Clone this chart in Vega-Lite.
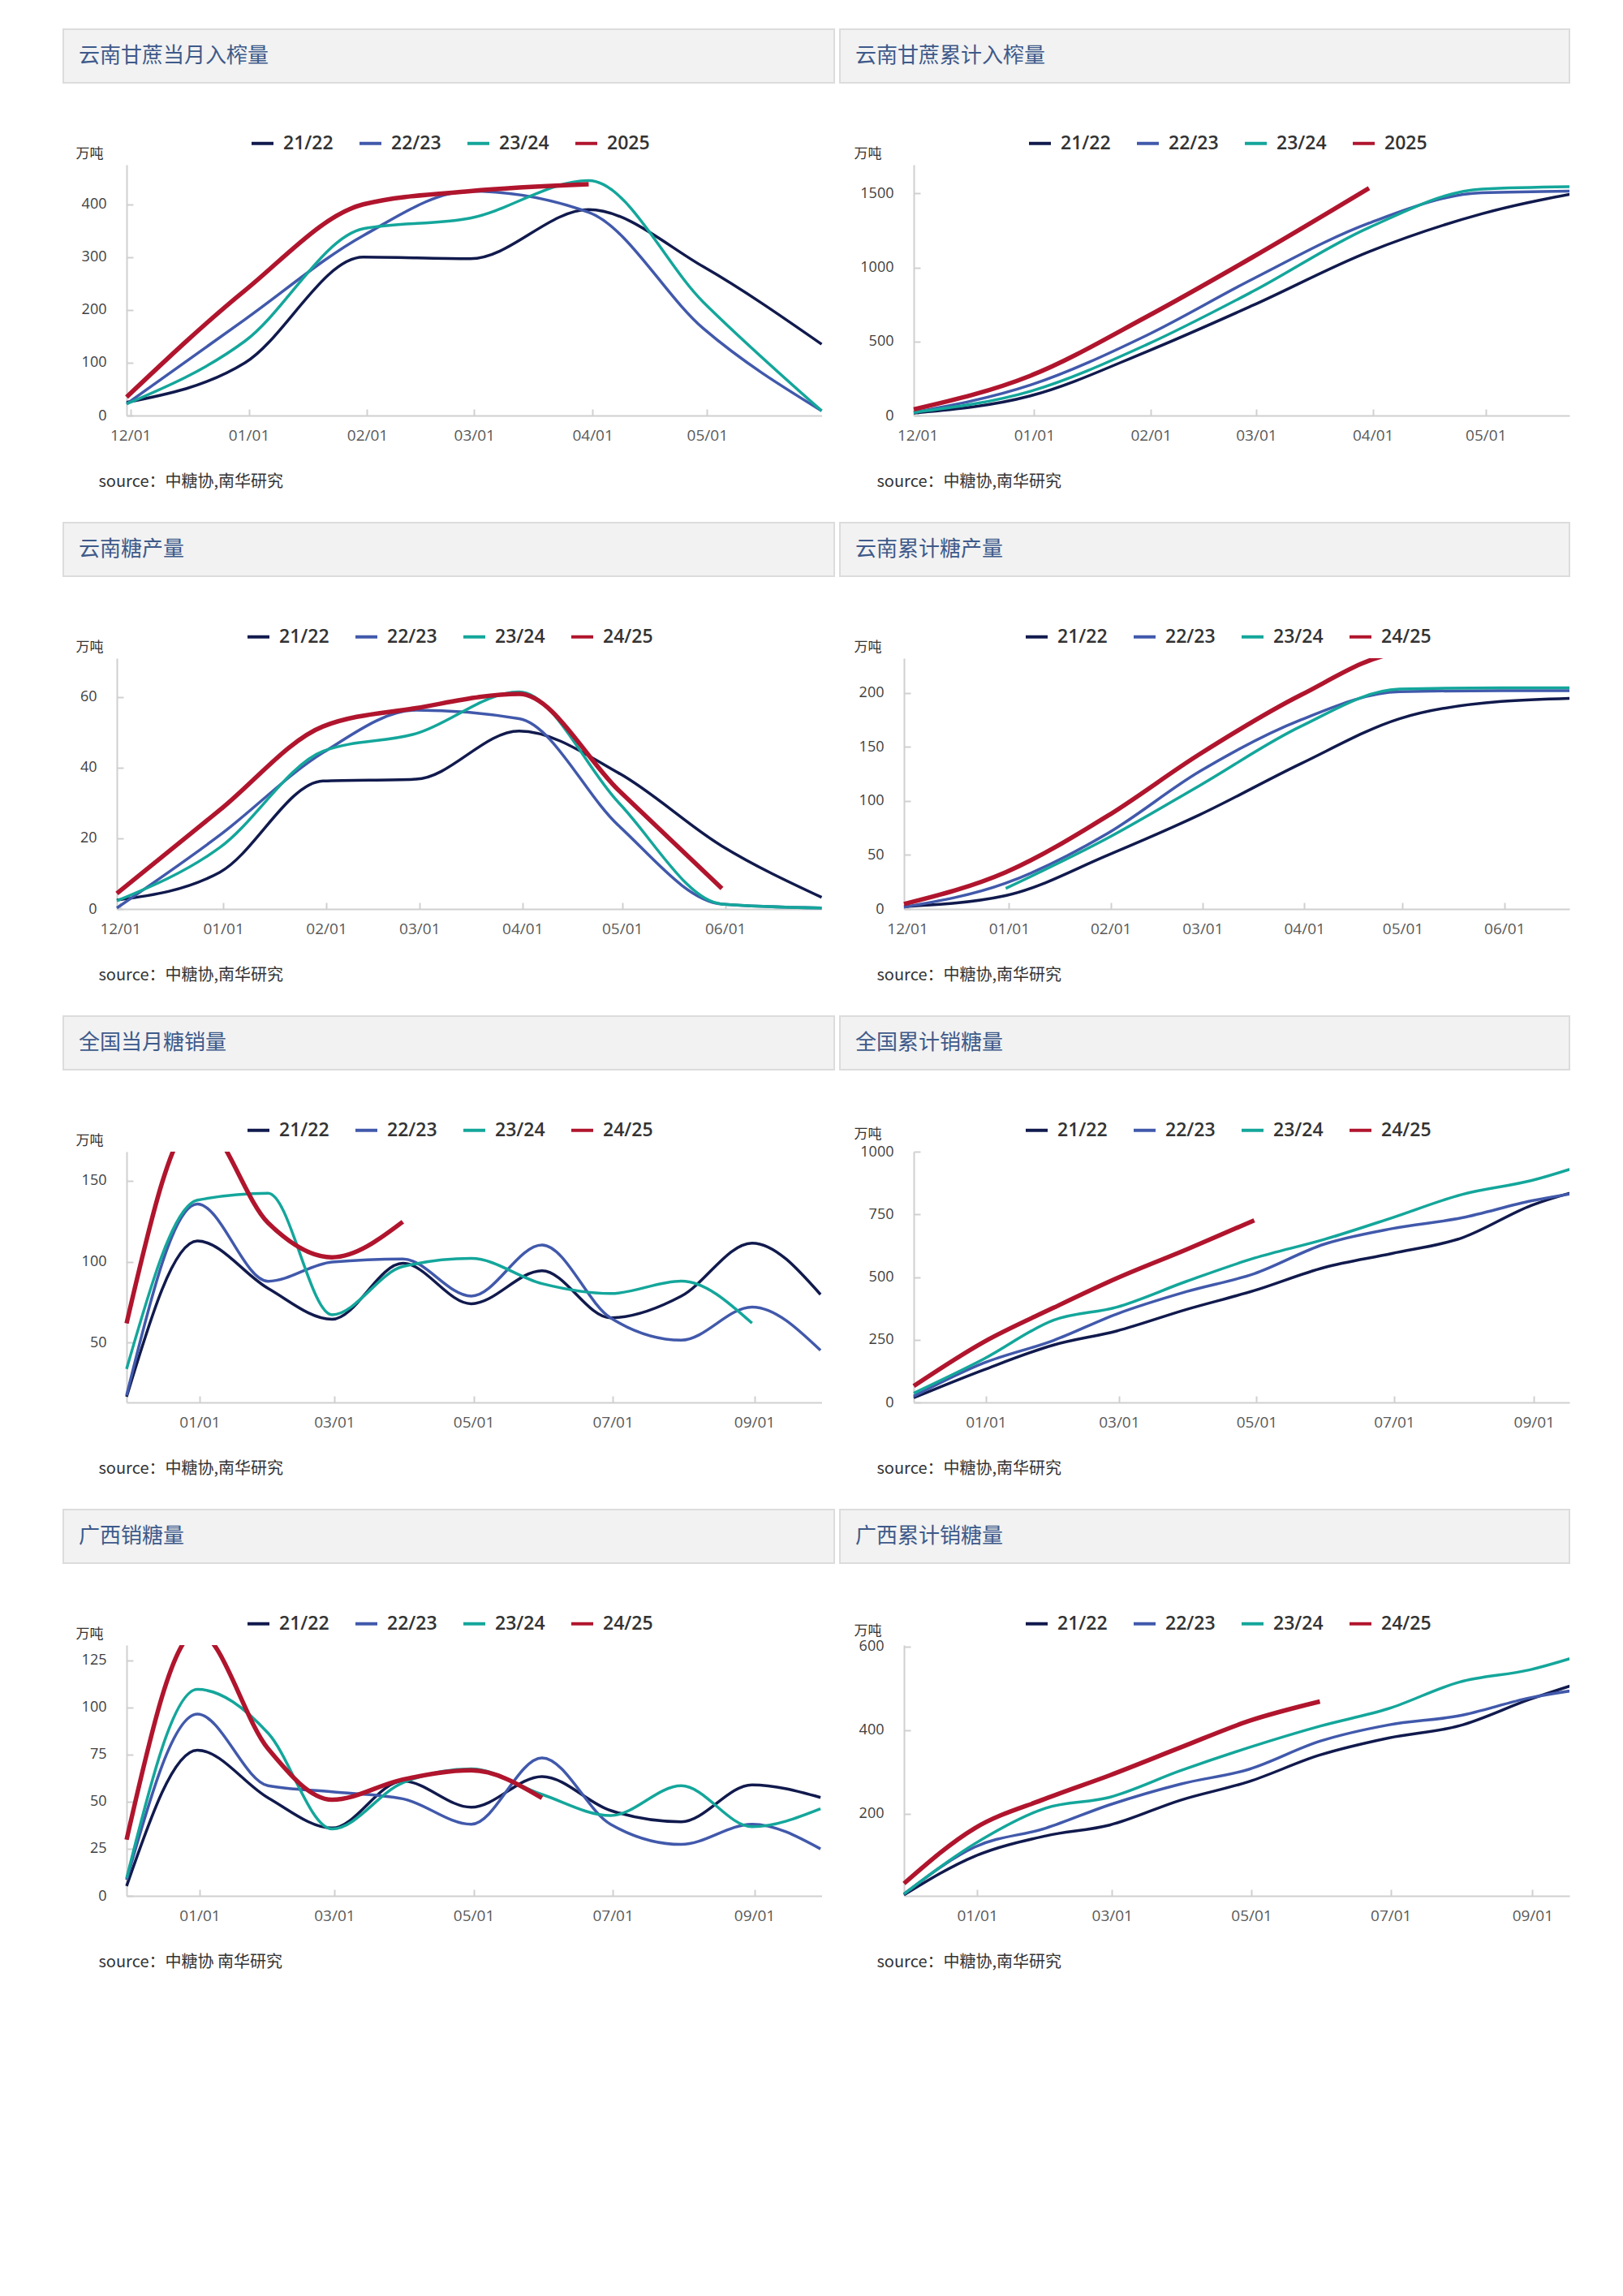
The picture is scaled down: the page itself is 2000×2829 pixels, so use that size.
{
"$schema": "https://vega.github.io/schema/vega-lite/v6.json",
"background": "white",
"padding": {"left": 77, "top": 35, "right": 0, "bottom": 60},
"autosize": {"type": "pad"},
"config": {
  "view": {"stroke": null},
  "font": "Noto Sans CJK SC",
  "axis": {"grid": false, "domainColor": "#d0d0d0", "domainWidth": 2, "tickColor": "#d0d0d0", "tickWidth": 2, "tickSize": -8, "labelFont": "Open Sans", "titleFont": "Noto Sans CJK SC", "titleFontWeight": "normal", "titleColor": "#333333", "labelOverlap": false, "labelFlush": false},
  "axisX": {"labelFontSize": 19, "labelColor": "#595959", "labelPadding": 23, "titleAlign": "left", "titleBaseline": "middle", "titleFontSize": 20},
  "axisY": {"labelFontSize": 18, "labelColor": "#404040", "labelPadding": 33, "titleAngle": 0, "titleAlign": "left", "titleBaseline": "middle", "titleFontSize": 17},
  "legend": {"symbolType": "stroke", "symbolStrokeWidth": 4, "symbolSize": 729, "labelFont": "Open Sans", "labelFontSize": 23, "labelFontWeight": 600, "labelColor": "#333333", "labelOffset": 10, "columnPadding": 24, "padding": 0},
  "title": {"orient": "top", "anchor": "start", "frame": "group", "offset": -46, "dx": 19, "baseline": "middle", "fontSize": 26, "font": "Noto Sans CJK SC", "fontWeight": "normal", "color": "#3e5a8a"}
},
"datasets": {
"p1": [
{"d":"2024-11-30","s":"21/22","v":25},{"d":"2024-12-31","s":"21/22","v":100},{"d":"2025-01-31","s":"21/22","v":300},{"d":"2025-02-28","s":"21/22","v":297},{"d":"2025-03-31","s":"21/22","v":390},{"d":"2025-04-30","s":"21/22","v":282},{"d":"2025-05-31","s":"21/22","v":135},
{"d":"2024-11-30","s":"22/23","v":22},{"d":"2024-12-31","s":"22/23","v":182},{"d":"2025-01-31","s":"22/23","v":341},{"d":"2025-02-28","s":"22/23","v":425},{"d":"2025-03-31","s":"22/23","v":385},{"d":"2025-04-30","s":"22/23","v":165},{"d":"2025-05-31","s":"22/23","v":9},
{"d":"2024-11-30","s":"23/24","v":22},{"d":"2024-12-31","s":"23/24","v":141},{"d":"2025-01-31","s":"23/24","v":354},{"d":"2025-02-28","s":"23/24","v":374},{"d":"2025-03-31","s":"23/24","v":445},{"d":"2025-04-30","s":"23/24","v":215},{"d":"2025-05-31","s":"23/24","v":9},
{"d":"2024-11-30","s":"2025","v":35},{"d":"2024-12-31","s":"2025","v":237},{"d":"2025-01-31","s":"2025","v":400},{"d":"2025-02-28","s":"2025","v":425},{"d":"2025-03-31","s":"2025","v":438}
],
"p2": [
{"d":"2024-11-30","s":"21/22","v":17},{"d":"2024-12-31","s":"21/22","v":133},{"d":"2025-01-31","s":"21/22","v":433},{"d":"2025-02-28","s":"21/22","v":743},{"d":"2025-03-31","s":"21/22","v":1107},{"d":"2025-04-30","s":"21/22","v":1363},{"d":"2025-05-31","s":"21/22","v":1530},
{"d":"2024-11-30","s":"22/23","v":21},{"d":"2024-12-31","s":"22/23","v":206},{"d":"2025-01-31","s":"22/23","v":543},{"d":"2025-02-28","s":"22/23","v":921},{"d":"2025-03-31","s":"22/23","v":1300},{"d":"2025-04-30","s":"22/23","v":1505},{"d":"2025-05-31","s":"22/23","v":1518},
{"d":"2024-11-30","s":"23/24","v":21},{"d":"2024-12-31","s":"23/24","v":164},{"d":"2025-01-31","s":"23/24","v":480},{"d":"2025-02-28","s":"23/24","v":837},{"d":"2025-03-31","s":"23/24","v":1270},{"d":"2025-04-30","s":"23/24","v":1530},{"d":"2025-05-31","s":"23/24","v":1548},
{"d":"2024-11-30","s":"2025","v":42},{"d":"2024-12-31","s":"2025","v":269},{"d":"2025-01-31","s":"2025","v":669},{"d":"2025-02-28","s":"2025","v":1069},{"d":"2025-03-31","s":"2025","v":1536}
],
"p3": [
{"d":"2024-11-30","s":"21/22","v":2.5},{"d":"2024-12-31","s":"21/22","v":10.4},{"d":"2025-01-31","s":"21/22","v":36.2},{"d":"2025-02-28","s":"21/22","v":36.7},{"d":"2025-03-31","s":"21/22","v":50.3},{"d":"2025-04-30","s":"21/22","v":38.4},{"d":"2025-05-31","s":"21/22","v":17.8},{"d":"2025-06-30","s":"21/22","v":3.3},
{"d":"2024-11-30","s":"22/23","v":0.3},{"d":"2024-12-31","s":"22/23","v":20.9},{"d":"2025-01-31","s":"22/23","v":44.2},{"d":"2025-02-28","s":"22/23","v":56.2},{"d":"2025-03-31","s":"22/23","v":53.8},{"d":"2025-04-30","s":"22/23","v":23.5},{"d":"2025-05-31","s":"22/23","v":1.4},{"d":"2025-06-30","s":"22/23","v":0.3},
{"d":"2024-11-30","s":"23/24","v":2.3},{"d":"2024-12-31","s":"23/24","v":17.4},{"d":"2025-01-31","s":"23/24","v":44.6},{"d":"2025-02-28","s":"23/24","v":49.6},{"d":"2025-03-31","s":"23/24","v":61.4},{"d":"2025-04-30","s":"23/24","v":30},{"d":"2025-05-31","s":"23/24","v":1.4},{"d":"2025-06-30","s":"23/24","v":0.3},
{"d":"2024-11-30","s":"24/25","v":4.4},{"d":"2024-12-31","s":"24/25","v":28},{"d":"2025-01-31","s":"24/25","v":51.6},{"d":"2025-02-28","s":"24/25","v":56.8},{"d":"2025-03-31","s":"24/25","v":60.8},{"d":"2025-04-30","s":"24/25","v":33.5},{"d":"2025-05-31","s":"24/25","v":5.8}
],
"p4": [
{"d":"2024-11-30","s":"21/22","v":2.3},{"d":"2024-12-31","s":"21/22","v":12.4},{"d":"2025-01-31","s":"21/22","v":49.7},{"d":"2025-02-28","s":"21/22","v":87},{"d":"2025-03-31","s":"21/22","v":134.5},{"d":"2025-04-30","s":"21/22","v":176},{"d":"2025-05-31","s":"21/22","v":192},{"d":"2025-06-30","s":"21/22","v":195.5},
{"d":"2024-11-30","s":"22/23","v":1.7},{"d":"2024-12-31","s":"22/23","v":23.9},{"d":"2025-01-31","s":"22/23","v":69.8},{"d":"2025-02-28","s":"22/23","v":127},{"d":"2025-03-31","s":"22/23","v":175},{"d":"2025-04-30","s":"22/23","v":201},{"d":"2025-05-31","s":"22/23","v":202},{"d":"2025-06-30","s":"22/23","v":202},
{"d":"2024-12-31","s":"23/24","v":19},{"d":"2025-01-31","s":"23/24","v":65.5},{"d":"2025-02-28","s":"23/24","v":114},{"d":"2025-03-31","s":"23/24","v":169},{"d":"2025-04-30","s":"23/24","v":203.4},{"d":"2025-05-31","s":"23/24","v":204.6},{"d":"2025-06-30","s":"23/24","v":204.6},
{"d":"2024-11-30","s":"24/25","v":4.6},{"d":"2024-12-31","s":"24/25","v":34},{"d":"2025-01-31","s":"24/25","v":86},{"d":"2025-02-28","s":"24/25","v":143},{"d":"2025-03-31","s":"24/25","v":198},{"d":"2025-04-30","s":"24/25","v":237},{"d":"2025-05-31","s":"24/25","v":242}
],
"p5": [
{"d":"2024-11-30","s":"21/22","v":16.5},{"d":"2024-12-31","s":"21/22","v":112.8},{"d":"2025-01-31","s":"21/22","v":83.5},{"d":"2025-02-28","s":"21/22","v":64.4},{"d":"2025-03-31","s":"21/22","v":99},{"d":"2025-04-30","s":"21/22","v":74},{"d":"2025-05-31","s":"21/22","v":94.4},{"d":"2025-06-30","s":"21/22","v":65.3},{"d":"2025-07-31","s":"21/22","v":78.7},{"d":"2025-08-31","s":"21/22","v":111.5},{"d":"2025-09-30","s":"21/22","v":79.7},
{"d":"2024-11-30","s":"22/23","v":17.4},{"d":"2024-12-31","s":"22/23","v":135.6},{"d":"2025-01-31","s":"22/23","v":87.9},{"d":"2025-02-28","s":"22/23","v":99.8},{"d":"2025-03-31","s":"22/23","v":101.7},{"d":"2025-04-30","s":"22/23","v":78.7},{"d":"2025-05-31","s":"22/23","v":110.3},{"d":"2025-06-30","s":"22/23","v":65.3},{"d":"2025-07-31","s":"22/23","v":51.5},{"d":"2025-08-31","s":"22/23","v":72},{"d":"2025-09-30","s":"22/23","v":45.2},
{"d":"2024-11-30","s":"23/24","v":33.7},{"d":"2024-12-31","s":"23/24","v":138},{"d":"2025-01-31","s":"23/24","v":142.3},{"d":"2025-02-28","s":"23/24","v":67.2},{"d":"2025-03-31","s":"23/24","v":97},{"d":"2025-04-30","s":"23/24","v":102},{"d":"2025-05-31","s":"23/24","v":86.4},{"d":"2025-06-30","s":"23/24","v":80.3},{"d":"2025-07-31","s":"23/24","v":88},{"d":"2025-08-31","s":"23/24","v":62},
{"d":"2024-11-30","s":"24/25","v":61.9},{"d":"2024-12-31","s":"24/25","v":188},{"d":"2025-01-31","s":"24/25","v":124},{"d":"2025-02-28","s":"24/25","v":102.7},{"d":"2025-03-31","s":"24/25","v":124.7}
],
"p6": [
{"d":"2024-11-30","s":"21/22","v":18.6},{"d":"2024-12-31","s":"21/22","v":130},{"d":"2025-01-31","s":"21/22","v":229},{"d":"2025-02-28","s":"21/22","v":285},{"d":"2025-03-31","s":"21/22","v":371},{"d":"2025-04-30","s":"21/22","v":446},{"d":"2025-05-31","s":"21/22","v":538},{"d":"2025-06-30","s":"21/22","v":594},{"d":"2025-07-31","s":"21/22","v":656},{"d":"2025-08-31","s":"21/22","v":786},{"d":"2025-09-30","s":"21/22","v":866},
{"d":"2024-11-30","s":"22/23","v":24.8},{"d":"2024-12-31","s":"22/23","v":157},{"d":"2025-01-31","s":"22/23","v":247.5},{"d":"2025-02-28","s":"22/23","v":352.7},{"d":"2025-03-31","s":"22/23","v":442},{"d":"2025-04-30","s":"22/23","v":513.6},{"d":"2025-05-31","s":"22/23","v":631},{"d":"2025-06-30","s":"22/23","v":693},{"d":"2025-07-31","s":"22/23","v":736},{"d":"2025-08-31","s":"22/23","v":804},{"d":"2025-09-30","s":"22/23","v":850},
{"d":"2024-11-30","s":"23/24","v":37},{"d":"2024-12-31","s":"23/24","v":173},{"d":"2025-01-31","s":"23/24","v":328},{"d":"2025-02-28","s":"23/24","v":380},{"d":"2025-03-31","s":"23/24","v":483},{"d":"2025-04-30","s":"23/24","v":575.5},{"d":"2025-05-31","s":"23/24","v":650},{"d":"2025-06-30","s":"23/24","v":736},{"d":"2025-07-31","s":"23/24","v":829},{"d":"2025-08-31","s":"23/24","v":885},{"d":"2025-09-30","s":"23/24","v":968},
{"d":"2024-11-30","s":"24/25","v":65.6},{"d":"2024-12-31","s":"24/25","v":241},{"d":"2025-01-31","s":"24/25","v":377.5},{"d":"2025-02-28","s":"24/25","v":495},{"d":"2025-03-31","s":"24/25","v":610},{"d":"2025-04-30","s":"24/25","v":726}
],
"p7": [
{"d":"2024-11-30","s":"21/22","v":5.2},{"d":"2024-12-31","s":"21/22","v":77.3},{"d":"2025-01-31","s":"21/22","v":52},{"d":"2025-02-28","s":"21/22","v":36},{"d":"2025-03-31","s":"21/22","v":60.9},{"d":"2025-04-30","s":"21/22","v":47},{"d":"2025-05-31","s":"21/22","v":63.3},{"d":"2025-06-30","s":"21/22","v":45.3},{"d":"2025-07-31","s":"21/22","v":39.3},{"d":"2025-08-31","s":"21/22","v":58.9},{"d":"2025-09-30","s":"21/22","v":52.2},
{"d":"2024-11-30","s":"22/23","v":8.5},{"d":"2024-12-31","s":"22/23","v":96.4},{"d":"2025-01-31","s":"22/23","v":58.4},{"d":"2025-02-28","s":"22/23","v":55.2},{"d":"2025-03-31","s":"22/23","v":51.5},{"d":"2025-04-30","s":"22/23","v":38},{"d":"2025-05-31","s":"22/23","v":73.2},{"d":"2025-06-30","s":"22/23","v":38},{"d":"2025-07-31","s":"22/23","v":27.3},{"d":"2025-08-31","s":"22/23","v":38},{"d":"2025-09-30","s":"22/23","v":24.9},
{"d":"2024-11-30","s":"23/24","v":9.3},{"d":"2024-12-31","s":"23/24","v":109.5},{"d":"2025-01-31","s":"23/24","v":86.3},{"d":"2025-02-28","s":"23/24","v":35.5},{"d":"2025-03-31","s":"23/24","v":60},{"d":"2025-04-30","s":"23/24","v":67.4},{"d":"2025-05-31","s":"23/24","v":53.8},{"d":"2025-06-30","s":"23/24","v":42.6},{"d":"2025-07-31","s":"23/24","v":58.4},{"d":"2025-08-31","s":"23/24","v":36.7},{"d":"2025-09-30","s":"23/24","v":46.2},
{"d":"2024-11-30","s":"24/25","v":29.8},{"d":"2024-12-31","s":"24/25","v":140},{"d":"2025-01-31","s":"24/25","v":78},{"d":"2025-02-28","s":"24/25","v":51},{"d":"2025-03-31","s":"24/25","v":61.7},{"d":"2025-04-30","s":"24/25","v":66.6},{"d":"2025-05-31","s":"24/25","v":51.9}
],
"p8": [
{"d":"2024-11-30","s":"21/22","v":5.2},{"d":"2024-12-31","s":"21/22","v":98},{"d":"2025-01-31","s":"21/22","v":146.5},{"d":"2025-02-28","s":"21/22","v":172.5},{"d":"2025-03-31","s":"21/22","v":232},{"d":"2025-04-30","s":"21/22","v":276.6},{"d":"2025-05-31","s":"21/22","v":340},{"d":"2025-06-30","s":"21/22","v":380.7},{"d":"2025-07-31","s":"21/22","v":410},{"d":"2025-08-31","s":"21/22","v":473.6},{"d":"2025-09-30","s":"21/22","v":527},
{"d":"2024-11-30","s":"22/23","v":7.4},{"d":"2024-12-31","s":"22/23","v":120},{"d":"2025-01-31","s":"22/23","v":165},{"d":"2025-02-28","s":"22/23","v":221},{"d":"2025-03-31","s":"22/23","v":270.6},{"d":"2025-04-30","s":"22/23","v":306},{"d":"2025-05-31","s":"22/23","v":373},{"d":"2025-06-30","s":"22/23","v":412},{"d":"2025-07-31","s":"22/23","v":434},{"d":"2025-08-31","s":"22/23","v":477},{"d":"2025-09-30","s":"22/23","v":503},
{"d":"2024-11-30","s":"23/24","v":7.4},{"d":"2024-12-31","s":"23/24","v":128},{"d":"2025-01-31","s":"23/24","v":213},{"d":"2025-02-28","s":"23/24","v":239},{"d":"2025-03-31","s":"23/24","v":302.6},{"d":"2025-04-30","s":"23/24","v":358},{"d":"2025-05-31","s":"23/24","v":409},{"d":"2025-06-30","s":"23/24","v":451},{"d":"2025-07-31","s":"23/24","v":514.5},{"d":"2025-08-31","s":"23/24","v":544},{"d":"2025-09-30","s":"23/24","v":592},
{"d":"2024-11-30","s":"24/25","v":32.7},{"d":"2024-12-31","s":"24/25","v":165},{"d":"2025-01-31","s":"24/25","v":235.7},{"d":"2025-02-28","s":"24/25","v":291.4},{"d":"2025-03-31","s":"24/25","v":358},{"d":"2025-04-30","s":"24/25","v":421.6},{"d":"2025-05-31","s":"24/25","v":468}
]
},
"columns": 2,
"spacing": {"row": 101, "column": 7},
"bounds": "flush",
"resolve": {"scale": {"color": "independent"}, "legend": {"color": "independent"}},
"concat": [
  {"width": 950, "height": 66, "data": {"values": [{}]}, "mark": {"type": "rect", "opacity": 0}, "view": {"fill": "#f2f2f2", "stroke": "#dcdcdc", "strokeWidth": 2}, "title": {"text": "云南甘蔗当月入榨量"}},
  {"width": 899, "height": 66, "data": {"values": [{}]}, "mark": {"type": "rect", "opacity": 0}, "view": {"fill": "#f2f2f2", "stroke": "#dcdcdc", "strokeWidth": 2}, "title": {"text": "云南甘蔗累计入榨量"}},
  {"width": 950, "height": 340, "data": {"name": "p1"},
   "mark": {"type": "line", "interpolate": "monotone", "clip": true},
   "encoding": {
    "x": {"field": "d", "type": "temporal", "scale": {"type": "utc", "nice": false, "domain": [{"year":2024,"month":11,"date":30,"utc":true},{"year":2025,"month":5,"date":31,"utc":true}], "range": [78, 934.5]},
      "axis": {"offset": -31, "values": [{"year":2024,"month":12,"date":1,"utc":true},{"year":2025,"month":1,"date":1,"utc":true},{"year":2025,"month":2,"date":1,"utc":true},{"year":2025,"month":3,"date":1,"utc":true},{"year":2025,"month":4,"date":1,"utc":true},{"year":2025,"month":5,"date":1,"utc":true}], "format": "%m/%d", "title": "source：中糖协,南华研究", "titleX": 43, "titleY": 81}},
    "y": {"field": "v", "type": "quantitative", "scale": {"domain": [0, 475], "nice": false, "zero": false, "range": [309, 0]},
      "axis": {"values": [0, 100, 200, 300, 400], "format": "d", "offset": -78, "title": "万吨", "titleX": -63, "titleY": -14}},
    "color": {"field": "s", "type": "nominal", "scale": {"domain": ["21/22","22/23","23/24","2025"], "range": ["#111a4d","#4159ab","#14a69b","#b0152d"]}, "legend": {"orient": "none", "legendX": 230, "legendY": -42, "direction": "horizontal", "title": null, "symbolStrokeWidth": 4}},
    "strokeWidth": {"condition": {"test": "datum.s === '2025' || datum.s === '24/25'", "value": 5.5}, "value": 3.5}
   }},
  {"width": 899, "height": 340, "data": {"name": "p2"},
   "mark": {"type": "line", "interpolate": "monotone", "clip": true},
   "encoding": {
    "x": {"field": "d", "type": "temporal", "scale": {"type": "utc", "nice": false, "domain": [{"year":2024,"month":11,"date":30,"utc":true},{"year":2025,"month":5,"date":23,"hours":6,"utc":true}], "range": [91, 899]},
      "axis": {"offset": -31, "values": [{"year":2024,"month":12,"date":1,"utc":true},{"year":2025,"month":1,"date":1,"utc":true},{"year":2025,"month":2,"date":1,"utc":true},{"year":2025,"month":3,"date":1,"utc":true},{"year":2025,"month":4,"date":1,"utc":true},{"year":2025,"month":5,"date":1,"utc":true}], "format": "%m/%d", "title": "source：中糖协,南华研究", "titleX": 45, "titleY": 81}},
    "y": {"field": "v", "type": "quantitative", "scale": {"domain": [0, 1694], "nice": false, "zero": false, "range": [309, 0]},
      "axis": {"values": [0, 500, 1000, 1500], "format": "d", "offset": -91, "title": "万吨", "titleX": -74, "titleY": -14}},
    "color": {"field": "s", "type": "nominal", "scale": {"domain": ["21/22","22/23","23/24","2025"], "range": ["#111a4d","#4159ab","#14a69b","#b0152d"]}, "legend": {"orient": "none", "legendX": 231, "legendY": -42, "direction": "horizontal", "title": null, "symbolStrokeWidth": 4}},
    "strokeWidth": {"condition": {"test": "datum.s === '2025' || datum.s === '24/25'", "value": 5.5}, "value": 3.5}
   }},
  {"width": 950, "height": 66, "data": {"values": [{}]}, "mark": {"type": "rect", "opacity": 0}, "view": {"fill": "#f2f2f2", "stroke": "#dcdcdc", "strokeWidth": 2}, "title": {"text": "云南糖产量"}},
  {"width": 899, "height": 66, "data": {"values": [{}]}, "mark": {"type": "rect", "opacity": 0}, "view": {"fill": "#f2f2f2", "stroke": "#dcdcdc", "strokeWidth": 2}, "title": {"text": "云南累计糖产量"}},
  {"width": 950, "height": 340, "data": {"name": "p3"},
   "mark": {"type": "line", "interpolate": "monotone", "clip": true},
   "encoding": {
    "x": {"field": "d", "type": "temporal", "scale": {"type": "utc", "nice": false, "domain": [{"year":2024,"month":11,"date":30,"utc":true},{"year":2025,"month":6,"date":30,"utc":true}], "range": [66, 934.5]},
      "axis": {"offset": -31, "values": [{"year":2024,"month":12,"date":1,"utc":true},{"year":2025,"month":1,"date":1,"utc":true},{"year":2025,"month":2,"date":1,"utc":true},{"year":2025,"month":3,"date":1,"utc":true},{"year":2025,"month":4,"date":1,"utc":true},{"year":2025,"month":5,"date":1,"utc":true},{"year":2025,"month":6,"date":1,"utc":true}], "format": "%m/%d", "title": "source：中糖协,南华研究", "titleX": 43, "titleY": 81}},
    "y": {"field": "v", "type": "quantitative", "scale": {"domain": [0, 70.9], "nice": false, "zero": false, "range": [309, 0]},
      "axis": {"values": [0, 20, 40, 60], "format": "d", "offset": -66, "title": "万吨", "titleX": -51, "titleY": -14}},
    "color": {"field": "s", "type": "nominal", "scale": {"domain": ["21/22","22/23","23/24","24/25"], "range": ["#111a4d","#4159ab","#14a69b","#b0152d"]}, "legend": {"orient": "none", "legendX": 225, "legendY": -42, "direction": "horizontal", "title": null, "symbolStrokeWidth": 4}},
    "strokeWidth": {"condition": {"test": "datum.s === '2025' || datum.s === '24/25'", "value": 5.5}, "value": 3.5}
   }},
  {"width": 899, "height": 340, "data": {"name": "p4"},
   "mark": {"type": "line", "interpolate": "monotone", "clip": true},
   "encoding": {
    "x": {"field": "d", "type": "temporal", "scale": {"type": "utc", "nice": false, "domain": [{"year":2024,"month":11,"date":30,"utc":true},{"year":2025,"month":6,"date":20,"hours":20,"utc":true}], "range": [79, 899]},
      "axis": {"offset": -31, "values": [{"year":2024,"month":12,"date":1,"utc":true},{"year":2025,"month":1,"date":1,"utc":true},{"year":2025,"month":2,"date":1,"utc":true},{"year":2025,"month":3,"date":1,"utc":true},{"year":2025,"month":4,"date":1,"utc":true},{"year":2025,"month":5,"date":1,"utc":true},{"year":2025,"month":6,"date":1,"utc":true}], "format": "%m/%d", "title": "source：中糖协,南华研究", "titleX": 45, "titleY": 81}},
    "y": {"field": "v", "type": "quantitative", "scale": {"domain": [0, 232], "nice": false, "zero": false, "range": [309, 0]},
      "axis": {"values": [0, 50, 100, 150, 200], "format": "d", "offset": -79, "title": "万吨", "titleX": -62, "titleY": -14}},
    "color": {"field": "s", "type": "nominal", "scale": {"domain": ["21/22","22/23","23/24","24/25"], "range": ["#111a4d","#4159ab","#14a69b","#b0152d"]}, "legend": {"orient": "none", "legendX": 227, "legendY": -42, "direction": "horizontal", "title": null, "symbolStrokeWidth": 4}},
    "strokeWidth": {"condition": {"test": "datum.s === '2025' || datum.s === '24/25'", "value": 5.5}, "value": 3.5}
   }},
  {"width": 950, "height": 66, "data": {"values": [{}]}, "mark": {"type": "rect", "opacity": 0}, "view": {"fill": "#f2f2f2", "stroke": "#dcdcdc", "strokeWidth": 2}, "title": {"text": "全国当月糖销量"}},
  {"width": 899, "height": 66, "data": {"values": [{}]}, "mark": {"type": "rect", "opacity": 0}, "view": {"fill": "#f2f2f2", "stroke": "#dcdcdc", "strokeWidth": 2}, "title": {"text": "全国累计销糖量"}},
  {"width": 950, "height": 340, "data": {"name": "p5"},
   "mark": {"type": "line", "interpolate": "monotone", "clip": true},
   "encoding": {
    "x": {"field": "d", "type": "temporal", "scale": {"type": "utc", "nice": false, "domain": [{"year":2024,"month":11,"date":30,"utc":true},{"year":2025,"month":9,"date":30,"hours":12,"utc":true}], "range": [78, 934.5]},
      "axis": {"offset": -31, "values": [{"year":2025,"month":1,"date":1,"utc":true},{"year":2025,"month":3,"date":1,"utc":true},{"year":2025,"month":5,"date":1,"utc":true},{"year":2025,"month":7,"date":1,"utc":true},{"year":2025,"month":9,"date":1,"utc":true}], "format": "%m/%d", "title": "source：中糖协,南华研究", "titleX": 43, "titleY": 81}},
    "y": {"field": "v", "type": "quantitative", "scale": {"domain": [13, 168], "nice": false, "zero": false, "range": [309, 0]},
      "axis": {"values": [50, 100, 150], "format": "d", "offset": -78, "title": "万吨", "titleX": -63, "titleY": -14}},
    "color": {"field": "s", "type": "nominal", "scale": {"domain": ["21/22","22/23","23/24","24/25"], "range": ["#111a4d","#4159ab","#14a69b","#b0152d"]}, "legend": {"orient": "none", "legendX": 225, "legendY": -42, "direction": "horizontal", "title": null, "symbolStrokeWidth": 4}},
    "strokeWidth": {"condition": {"test": "datum.s === '2025' || datum.s === '24/25'", "value": 5.5}, "value": 3.5}
   }},
  {"width": 899, "height": 340, "data": {"name": "p6"},
   "mark": {"type": "line", "interpolate": "monotone", "clip": true},
   "encoding": {
    "x": {"field": "d", "type": "temporal", "scale": {"type": "utc", "nice": false, "domain": [{"year":2024,"month":11,"date":30,"utc":true},{"year":2025,"month":9,"date":16,"hours":18,"utc":true}], "range": [91, 899]},
      "axis": {"offset": -31, "values": [{"year":2025,"month":1,"date":1,"utc":true},{"year":2025,"month":3,"date":1,"utc":true},{"year":2025,"month":5,"date":1,"utc":true},{"year":2025,"month":7,"date":1,"utc":true},{"year":2025,"month":9,"date":1,"utc":true}], "format": "%m/%d", "title": "source：中糖协,南华研究", "titleX": 45, "titleY": 81}},
    "y": {"field": "v", "type": "quantitative", "scale": {"domain": [0, 1000], "nice": false, "zero": false, "range": [309, 0]},
      "axis": {"values": [0, 250, 500, 750, 1000], "format": "d", "offset": -91, "title": "万吨", "titleX": -74, "titleY": -22}},
    "color": {"field": "s", "type": "nominal", "scale": {"domain": ["21/22","22/23","23/24","24/25"], "range": ["#111a4d","#4159ab","#14a69b","#b0152d"]}, "legend": {"orient": "none", "legendX": 227, "legendY": -42, "direction": "horizontal", "title": null, "symbolStrokeWidth": 4}},
    "strokeWidth": {"condition": {"test": "datum.s === '2025' || datum.s === '24/25'", "value": 5.5}, "value": 3.5}
   }},
  {"width": 950, "height": 66, "data": {"values": [{}]}, "mark": {"type": "rect", "opacity": 0}, "view": {"fill": "#f2f2f2", "stroke": "#dcdcdc", "strokeWidth": 2}, "title": {"text": "广西销糖量"}},
  {"width": 899, "height": 66, "data": {"values": [{}]}, "mark": {"type": "rect", "opacity": 0}, "view": {"fill": "#f2f2f2", "stroke": "#dcdcdc", "strokeWidth": 2}, "title": {"text": "广西累计销糖量"}},
  {"width": 950, "height": 340, "data": {"name": "p7"},
   "mark": {"type": "line", "interpolate": "monotone", "clip": true},
   "encoding": {
    "x": {"field": "d", "type": "temporal", "scale": {"type": "utc", "nice": false, "domain": [{"year":2024,"month":11,"date":30,"utc":true},{"year":2025,"month":9,"date":30,"hours":12,"utc":true}], "range": [78, 934.5]},
      "axis": {"offset": -31, "values": [{"year":2025,"month":1,"date":1,"utc":true},{"year":2025,"month":3,"date":1,"utc":true},{"year":2025,"month":5,"date":1,"utc":true},{"year":2025,"month":7,"date":1,"utc":true},{"year":2025,"month":9,"date":1,"utc":true}], "format": "%m/%d", "title": "source：中糖协 南华研究", "titleX": 43, "titleY": 81}},
    "y": {"field": "v", "type": "quantitative", "scale": {"domain": [0, 133], "nice": false, "zero": false, "range": [309, 0]},
      "axis": {"values": [0, 25, 50, 75, 100, 125], "format": "d", "offset": -78, "title": "万吨", "titleX": -63, "titleY": -14}},
    "color": {"field": "s", "type": "nominal", "scale": {"domain": ["21/22","22/23","23/24","24/25"], "range": ["#111a4d","#4159ab","#14a69b","#b0152d"]}, "legend": {"orient": "none", "legendX": 225, "legendY": -42, "direction": "horizontal", "title": null, "symbolStrokeWidth": 4}},
    "strokeWidth": {"condition": {"test": "datum.s === '2025' || datum.s === '24/25'", "value": 5.5}, "value": 3.5}
   }},
  {"width": 899, "height": 340, "data": {"name": "p8"},
   "mark": {"type": "line", "interpolate": "monotone", "clip": true},
   "encoding": {
    "x": {"field": "d", "type": "temporal", "scale": {"type": "utc", "nice": false, "domain": [{"year":2024,"month":11,"date":30,"utc":true},{"year":2025,"month":9,"date":17,"hours":5,"utc":true}], "range": [79, 899]},
      "axis": {"offset": -31, "values": [{"year":2025,"month":1,"date":1,"utc":true},{"year":2025,"month":3,"date":1,"utc":true},{"year":2025,"month":5,"date":1,"utc":true},{"year":2025,"month":7,"date":1,"utc":true},{"year":2025,"month":9,"date":1,"utc":true}], "format": "%m/%d", "title": "source：中糖协,南华研究", "titleX": 45, "titleY": 81}},
    "y": {"field": "v", "type": "quantitative", "scale": {"domain": [3, 603], "nice": false, "zero": false, "range": [309, 0]},
      "axis": {"values": [200, 400, 600], "format": "d", "offset": -79, "title": "万吨", "titleX": -62, "titleY": -18}},
    "color": {"field": "s", "type": "nominal", "scale": {"domain": ["21/22","22/23","23/24","24/25"], "range": ["#111a4d","#4159ab","#14a69b","#b0152d"]}, "legend": {"orient": "none", "legendX": 227, "legendY": -42, "direction": "horizontal", "title": null, "symbolStrokeWidth": 4}},
    "strokeWidth": {"condition": {"test": "datum.s === '2025' || datum.s === '24/25'", "value": 5.5}, "value": 3.5}
   }}
]
}
